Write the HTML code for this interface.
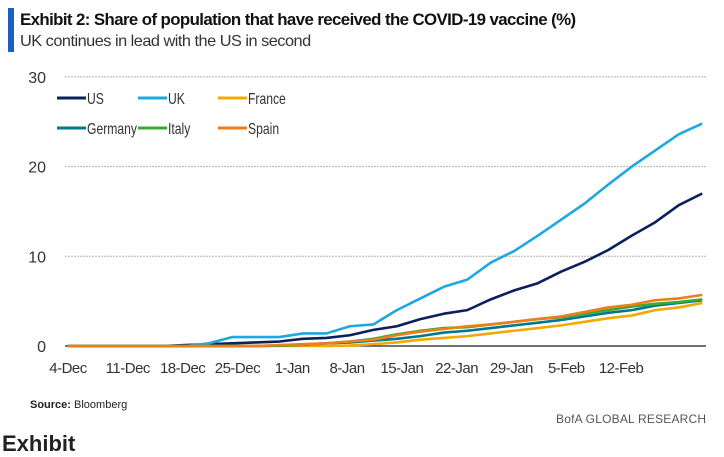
<!DOCTYPE html>
<html><head><meta charset="utf-8"><style>
body{margin:0;width:724px;height:440px;background:#fff;overflow:hidden;font-family:"Liberation Sans",sans-serif;position:relative}
.t{position:absolute;white-space:nowrap}
</style></head><body>
<div class="t" style="left:8px;top:8px;width:6px;height:44px;background:#1a5fc8"></div>
<div class="t" style="left:20px;top:10px;font-size:17px;font-weight:bold;color:#111;letter-spacing:-0.6px;transform:scaleX(0.99);transform-origin:left">Exhibit 2: Share of population that have received the COVID-19 vaccine (%)</div>
<div class="t" style="left:20px;top:33px;font-size:16px;color:#333;letter-spacing:-0.5px;transform:scaleX(1.02);transform-origin:left">UK continues in lead with the US in second</div>
<svg id="chart" width="724" height="440" style="position:absolute;left:0;top:0" font-family="Liberation Sans, sans-serif"></svg>
<div class="t" style="left:30px;top:399px;font-size:11px;color:#222"><b>Source:</b> Bloomberg</div>
<div class="t" style="left:556px;top:412px;font-size:12px;color:#555;letter-spacing:0.2px">BofA GLOBAL RESEARCH</div>
<div class="t" style="left:2px;top:431px;font-size:22px;font-weight:bold;color:#222">Exhibit</div>
<script>
const days=[0,3,6,9,12,15,18,21,24,27,30,33,36,39,42,45,48,51,54,57,60,63,66,69,72,75,78,81];
const usVals=[0,0,0,0,0,0.1,0.2,0.3,0.4,0.5,0.8,0.9,1.2,1.8,2.2,3.0,3.6,4.0,5.2,6.2,7.0,8.3,9.4,10.7,12.3,13.8,15.7,17.0];
const ukVals=[0,0,0,0,0,0,0.3,1.0,1.0,1.0,1.4,1.4,2.2,2.4,4.0,5.3,6.6,7.4,9.3,10.6,12.3,14.1,15.9,18.0,20.0,21.8,23.6,24.8];
const frVals=[0,0,0,0,0,0,0,0,0,0,0,0,0.05,0.2,0.4,0.7,0.9,1.1,1.4,1.7,2.0,2.3,2.7,3.1,3.4,4.0,4.3,4.8];
const deVals=[0,0,0,0,0,0,0,0,0,0.05,0.15,0.3,0.4,0.6,0.8,1.1,1.5,1.7,2.0,2.3,2.6,2.9,3.3,3.7,4.0,4.5,4.8,5.1];
const itVals=[0,0,0,0,0,0,0,0,0,0.05,0.15,0.3,0.5,0.8,1.3,1.7,2.0,2.1,2.4,2.7,3.0,3.2,3.6,4.0,4.4,4.7,4.9,5.2];
const esVals=[0,0,0,0,0,0,0,0,0,0.1,0.2,0.3,0.5,0.7,1.2,1.6,1.9,2.2,2.4,2.7,3.0,3.3,3.8,4.3,4.6,5.1,5.3,5.7];
const yTicks=[0,10,20,30];
const xTickDays=[0,7,14,21,28,35,42,49,56,63,70];
const xTickLabels=["4-Dec","11-Dec","18-Dec","25-Dec","1-Jan","8-Jan","15-Jan","22-Jan","29-Jan","5-Feb","12-Feb"];
const seriesNames=["US","UK","France","Germany","Italy","Spain"];
const seriesColors=["#0b1f5c","#1ea7e1","#f5a800","#00788a","#3aaa35","#f07d1a"];
const seriesData=[usVals,ukVals,frVals,deVals,itVals,esVals];
const NS="http://www.w3.org/2000/svg",svg=document.getElementById('chart');
const X0=68,PXD=7.83,Y0=346,PXV=8.97;
const xs=d=>X0+d*PXD, ys=v=>Y0-v*PXV;
function mk(t,a){const e=document.createElementNS(NS,t);for(const k in a)e.setAttribute(k,a[k]);svg.appendChild(e);return e;}
yTicks.forEach(v=>{
 const l=mk('line',{x1:65,x2:706,y1:ys(v),y2:ys(v),stroke:v?'#b0b0b0':'#222','stroke-width':v?1:1.2,'stroke-dasharray':v?'2,1':''});
 
 
 const t=mk('text',{x:46,y:ys(v)+6,'text-anchor':'end','font-size':16,fill:'#333'});t.textContent=v;
 
 
});
xTickDays.forEach((d,i)=>{
 const t=mk('text',{x:xs(d)+(i?5:0),y:373,'text-anchor':'middle','font-size':15,fill:'#333','letter-spacing':'-0.5'});t.textContent=xTickLabels[i];
 
 
});
seriesData.forEach((vals,i)=>{
 const p=mk('polyline',{points:vals.map((v,j)=>xs(days[j])+','+ys(v)).join(' '),fill:'none',stroke:seriesColors[i],'stroke-width':2.6,'stroke-linejoin':'round'});
 
 
});
const legX=[57,138,218],legY=[98,128];
seriesNames.forEach((n,i)=>{
 const x=legX[i%3],y=legY[Math.floor(i/3)];
 const l=mk('line',{x1:x,x2:x+29,y1:y,y2:y,stroke:seriesColors[i],'stroke-width':3});
 
 
 const t=mk('text',{x:x+30,y:y+6,'font-size':16,fill:'#333'});t.textContent=n;
 
 
 const w=t.getComputedTextLength();
 t.setAttribute('textLength',(w*0.76).toFixed(1));
 t.setAttribute('lengthAdjust','spacingAndGlyphs');
});
</script>
</body></html>
